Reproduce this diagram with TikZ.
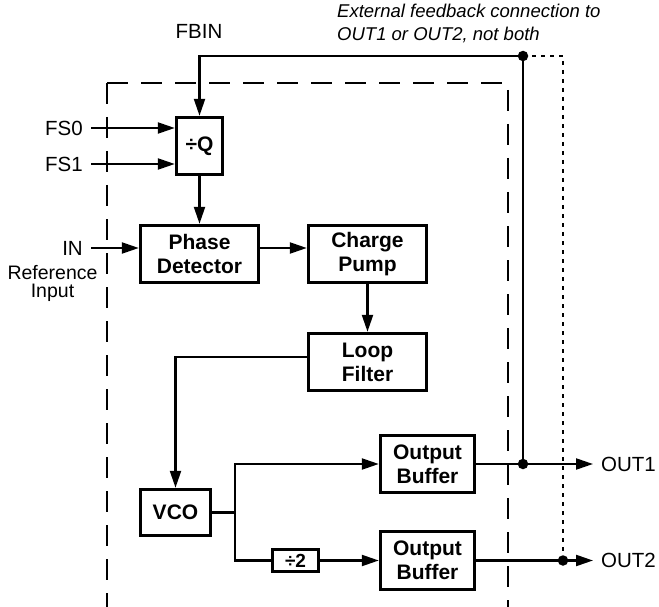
\documentclass[tikz,border=0pt]{standalone}
\usepackage{fontspec}
\setmainfont{Liberation Sans}
\usetikzlibrary{arrows.meta,calc}
\begin{document}
\begin{tikzpicture}[x=1pt,y=-1pt,
  blk/.style={draw,line width=3.4pt,inner sep=0pt,font=\fontsize{21}{24}\selectfont\bfseries,align=center},
  lbl/.style={inner xsep=8pt,inner ysep=0pt,font=\fontsize{20.5}{24}\selectfont},
  conn/.style={line width=2.2pt},
  arr/.style={conn,-{Triangle[length=17pt,width=11pt]}},
  dotnode/.style={circle,fill,inner sep=0pt,minimum size=10.5pt},
  dashbox/.style={line width=2.4pt,dash pattern=on 21pt off 13pt},
  dotline/.style={line width=2.2pt,dash pattern=on 4pt off 5pt},
  ]
\useasboundingbox (0,0) rectangle (659,607);

% enclosing dashed outline
\draw[dashbox] (107,83) -- (107,607);
\draw[dashbox] (107,83) -- (508,83) -- (508,607);

% blocks
\node[blk,minimum width=46pt,minimum height=57pt] (q)   at (199.5,146)   {÷Q};
\node[blk,minimum width=118pt,minimum height=57pt] (pd) at (199.5,254)   {Phase\\Detector};
\node[blk,minimum width=118pt,minimum height=57pt] (cp) at (367.5,254)   {Charge\\Pump};
\node[blk,minimum width=118pt,minimum height=57pt] (lf) at (367.5,362)   {Loop\\Filter};
\node[blk,minimum width=70pt,minimum height=46pt]  (vco) at (175.5,512.5) {VCO};
\node[blk,minimum width=94pt,minimum height=57pt]  (ob1) at (427.5,464)  {Output\\Buffer};
\node[blk,minimum width=46pt,minimum height=22pt,font=\fontsize{19}{20}\selectfont\bfseries] (dv) at (295.5,560.5) {÷2};
\node[blk,minimum width=94pt,minimum height=58pt]  (ob2) at (427.5,560.5) {Output\\Buffer};

% labels
\node[lbl,anchor=east] (fs0) at (91,128) {FS0};
\node[lbl,anchor=east] (fs1) at (91,164) {FS1};
\node[lbl,anchor=east] (in)  at (91,248) {IN};
\node[inner sep=0pt,anchor=north,align=center,font=\fontsize{19.5}{18}\selectfont] (ref) at (52.5,265) {Reference\\Input};
\node[inner sep=0pt,font=\fontsize{20.5}{24}\selectfont] (fbin) at (199,31) {FBIN};
\node[inner sep=0pt,anchor=north west,align=left,font=\fontsize{18.5}{23}\selectfont\itshape] (note) at (337,4) {External feedback connection to\\OUT1 or OUT2, not both};
\node[lbl,anchor=west] (out1) at (593,464) {OUT1};
\node[lbl,anchor=west] (out2) at (593,560.5) {OUT2};

% junctions
\node[dotnode] (fbdot) at (523,56) {};
\node[dotnode] (j1) at (523,464) {};
\node[dotnode] (j2) at (563,560.5) {};
\coordinate (fbc) at (563,56);
\coordinate (br) at (235,512.5);

% connectors
\draw[arr] (fs0.east) -- (q.west |- fs0.east);
\draw[arr] (fs1.east) -- (q.west |- fs1.east);
\draw[arr] (fbdot.center) -| (q.north);
\draw[arr] (q.south) -- (pd.north);
\draw[arr] (in.east) -- (pd.west |- in.east);
\draw[arr] ([yshift=6pt]pd.east) -- ([yshift=6pt]cp.west);
\draw[arr] (cp.south) -- (lf.north);
\draw[arr] ([yshift=5pt]lf.west) -| (vco.north);
\draw[conn] (vco.east) -- (br);
\draw[arr] (br) |- (ob1.west);
\draw[conn] (br) |- (dv.west);
\draw[arr] (dv.east) -- (ob2.west);
\draw[arr] (ob1.east) -- (out1.west);
\draw[arr] (ob2.east) -- (out2.west);
\draw[conn] (fbdot.center) -- (j1.center);
\draw[dotline] (fbdot.center) -- (fbc) -- (j2.center);
\end{tikzpicture}
\end{document}
